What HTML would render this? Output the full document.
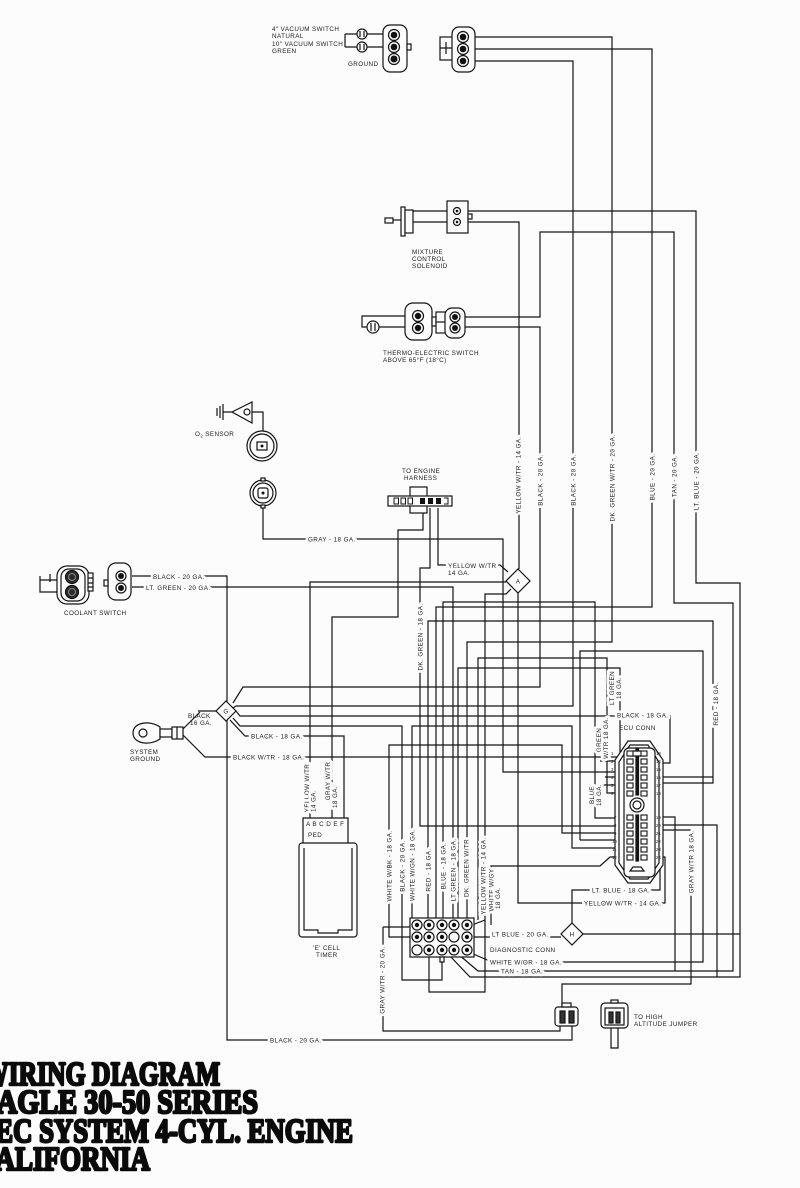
<!DOCTYPE html>
<html><head><meta charset="utf-8"><style>
html,body{margin:0;padding:0;background:#fcfcfc;}
svg{display:block;}
.t{font-family:"Liberation Sans",sans-serif;font-size:6.3px;letter-spacing:.4px;fill:#1c1c1c;stroke:#fcfcfc;stroke-width:5.5px;stroke-linejoin:round;paint-order:stroke;}
.n{font-family:"Liberation Sans",sans-serif;font-size:6.3px;letter-spacing:.4px;fill:#1c1c1c;}
.s{font-family:"Liberation Sans",sans-serif;font-size:4.3px;fill:#1c1c1c;}
.ti{font-family:"Liberation Serif",serif;font-weight:bold;font-size:34px;fill:#0a0a0a;stroke:#0a0a0a;stroke-width:2.6px;stroke-linejoin:round;}
</style></head><body>
<svg width="800" height="1188" viewBox="0 0 800 1188" xmlns="http://www.w3.org/2000/svg">
<rect width="800" height="1188" fill="#fcfcfc"/>

<!-- ================= WIRES ================= -->
<g fill="none" stroke="#141414" stroke-width="1.2">
<path d="M345,34 V47 M345,34 H357 M345,47 H357 M367,34 H388 M367,47 H388"/>
<path d="M470,37 H612 V642 H467 V920"/>
<path d="M470,49 H652 V607 H436 V920"/>
<path d="M470,61 H573 V706 H236"/>
<path d="M413,211 H696 V583 H740 V977 H470 L449,955"/>
<path d="M413,222 H519 V569"/>
<path d="M465,317 H540 V232 H674 V603 H733 V971 H478 L458,954"/>
<path d="M465,327 H540 V687 H243 L233,703"/>
<path d="M405,316 H362 V327 H367 M379,327 H405"/>
<path d="M223,412 H232 M248,412 H263 V431"/>
<path d="M263,506 V539 H503 V772 H627"/>
<path d="M423,508 V530 H398 V617 H332 V818"/>
<path d="M430,508 V568 H420 V826 H627"/>
<path d="M438,508 V565 H500 L508,572"/>
<path d="M506,582 H310 V818"/>
<path d="M511,589 L506,594 H485 V992 H429 V955"/>
<path d="M518,593 V903 H665 V857 H648"/>
<path d="M132,576 H227 V1040 H572 V1026"/>
<path d="M132,587 H453 V920"/>
<path d="M198,711 H216"/>
<path d="M183,729 L200,712"/>
<path d="M183,735 L205,757 H627"/>
<path d="M236,711 L240,716 H670 V763 H648"/>
<path d="M233,718 L240,726 H402 V980 H442 V957"/>
<path d="M230,720 L245,736 H344 V818"/>
<path d="M233,708 L236,706"/>
<path d="M417,937 H389 V745 H562 V833 H627"/>
<path d="M412,920 V726 H572 V848 H627"/>
<path d="M428,920 V621 H713 V783 H648"/>
<path d="M443,920 V602 H595 V818 H627"/>
<path d="M458,920 V668 H620 V752 H627"/>
<path d="M478,920 V658 H607 V793 H627"/>
<path d="M491,925 V866 H600 L610,857 H627"/>
<path d="M580,840 H627 M580,840 V651 H703 V962 H492 L471,953"/>
<path d="M648,830 H691 V984 H562 V1008"/>
<path d="M648,817 H675 V971"/>
<path d="M648,825 H717 V977"/>
<path d="M648,777 H713"/>
<path d="M648,850 H660 V890 H572 V923"/>
<path d="M648,761 H660"/>
<path d="M648,769 H655 M648,793 H655"/>
<path d="M627,761 H600 M627,777 H605 M627,785 H598"/>
<path d="M583,934 H740"/>
<path d="M472,937 H561"/>
<path d="M383,927 H412 M383,927 V1031 H560 V1026"/>
<path d="M412,920 L417,925 M420,918 L429,925 M436,918 L442,925 M453,918 V925 M467,918 V925 M485,920 L472,925"/>
<path d="M611,1022 V1048 H618 V1022"/>
</g>

<!-- ================= COMPONENTS ================= -->
<g stroke="#141414" stroke-width="1.2" fill="#fcfcfc">
<circle cx="362" cy="34" r="5"/><circle cx="362" cy="47" r="5"/>
<path d="M360,31 V37 M364,31 V37 M360,44 V50 M364,44 V50" fill="none"/>
<rect x="383" y="25" width="24" height="47" rx="7"/>
<rect x="407" y="44" width="4" height="6"/>
<circle cx="394" cy="35" r="5.5"/><circle cx="394" cy="47" r="5.5"/><circle cx="394" cy="59" r="5.5"/>
<rect x="440" y="37" width="13" height="23"/>
<path d="M440,48 H453 M446,42 V54" fill="none"/>
<rect x="452" y="27" width="23" height="45" rx="7"/>
<circle cx="463" cy="37" r="5.5"/><circle cx="463" cy="49" r="5.5"/><circle cx="463" cy="61" r="5.5"/>
<rect x="385" y="218" width="8" height="5"/>
<path d="M393,220 H402" fill="none"/>
<rect x="401" y="207" width="4" height="29"/>
<rect x="405" y="210" width="8" height="23"/>
<rect x="447" y="201" width="21" height="32"/>
<rect x="468" y="214" width="4" height="5"/>
<circle cx="457" cy="211" r="3.5"/><circle cx="457" cy="222" r="3.5"/>
<circle cx="373" cy="327" r="6"/>
<path d="M371,323 V331 M375,323 V331" fill="none"/>
<rect x="405" y="303" width="27" height="37" rx="8"/>
<rect x="432" y="317" width="4" height="9"/>
<circle cx="418" cy="316" r="5.5"/><circle cx="418" cy="328" r="5.5"/>
<rect x="436" y="312" width="10" height="21"/>
<path d="M436,322 H446" fill="none"/>
<rect x="445" y="308" width="20" height="30" rx="7"/>
<circle cx="455" cy="317" r="5"/><circle cx="455" cy="328" r="5"/>
<path d="M217,408 V416 M220,406 V418 M223,404 V420" fill="none"/>
<path d="M232,412 L252,402 V423 Z"/>
<circle cx="247" cy="412" r="3" fill="none"/>
<circle cx="262" cy="446" r="15"/><circle cx="262" cy="446" r="12"/>
<rect x="257" y="442" width="10" height="8"/>
<circle cx="263" cy="493" r="13"/><circle cx="263" cy="493" r="10"/>
<rect x="258" y="488" width="10" height="10" rx="2"/>
<rect x="261" y="478" width="4" height="3"/><rect x="261" y="505" width="4" height="3"/>
<rect x="410" y="487" width="17" height="10"/>
<rect x="410" y="504" width="17" height="9"/>
<rect x="388" y="496" width="64" height="10"/>
<!-- coolant switch -->
<path d="M40,576 V592 H57 M40,580 H57 M50,574 V582" fill="none"/>
<rect x="57" y="566" width="32" height="38" rx="10"/>
<rect x="61" y="569" width="24" height="32" rx="8"/>
<circle cx="72" cy="577" r="6.5" fill="#2a2a2a"/>
<circle cx="72" cy="592" r="6.5" fill="#2a2a2a"/>
<rect x="88" y="573" width="5" height="18"/>
<path d="M88,578 H93 M88,583 H93 M88,587 H93" fill="none"/>
<rect x="108" y="563" width="23" height="37" rx="8"/>
<rect x="104" y="580" width="4" height="6"/>
<circle cx="121" cy="576" r="5"/><circle cx="121" cy="588" r="5"/>
<path d="M160,727 C150,720 133,722 133,733 C133,744 150,746 160,739 Z"/>
<circle cx="143" cy="733" r="4"/>
<rect x="160" y="729" width="12" height="8"/>
<rect x="172" y="727" width="11" height="12"/>
<path d="M177,727 V739" fill="none"/>
<path d="M303,843 V818 H348 V843" fill="none"/>
<rect x="299" y="843" width="58" height="94" rx="3"/>
<path d="M304,848 V930 H318 V933 H338 V930 H352 V848" fill="none"/>
<path d="M628,741 H650 L663,760 V865 L650,883 H628 L615,865 V760 Z"/>
<path d="M630,745 H648 L659,762 V863 L648,879 H630 L619,863 V762 Z"/>
<rect x="624" y="748" width="31" height="129" rx="5"/>
<rect x="636" y="749" width="2.5" height="46" fill="#141414"/>
<rect x="636" y="815" width="2.5" height="46" fill="#141414"/>
<circle cx="637" cy="805" r="7"/><circle cx="637" cy="805" r="4"/>
<path d="M630,871 L633,867 H641 L644,871 Z"/>
<path d="M630,756 L633,751 H641 L644,756 Z"/>
</g>

<g fill="#fcfcfc" stroke="#141414" stroke-width="1.1">
<rect x="627" y="751" width="6" height="5"/><rect x="627" y="759" width="6" height="5"/><rect x="627" y="767" width="6" height="5"/><rect x="627" y="775" width="6" height="5"/><rect x="627" y="783" width="6" height="5"/><rect x="627" y="791" width="6" height="5"/>
<rect x="641" y="751" width="6" height="5"/><rect x="641" y="759" width="6" height="5"/><rect x="641" y="767" width="6" height="5"/><rect x="641" y="775" width="6" height="5"/><rect x="641" y="783" width="6" height="5"/><rect x="641" y="791" width="6" height="5"/>
<rect x="627" y="815" width="6" height="5"/><rect x="627" y="823" width="6" height="5"/><rect x="627" y="831" width="6" height="5"/><rect x="627" y="839" width="6" height="5"/><rect x="627" y="847" width="6" height="5"/><rect x="627" y="855" width="6" height="5"/>
<rect x="641" y="815" width="6" height="5"/><rect x="641" y="823" width="6" height="5"/><rect x="641" y="831" width="6" height="5"/><rect x="641" y="839" width="6" height="5"/><rect x="641" y="847" width="6" height="5"/><rect x="641" y="855" width="6" height="5"/>
</g>

<g fill="#111">
<circle cx="394" cy="35" r="3.3"/><circle cx="394" cy="47" r="3.3"/><circle cx="394" cy="59" r="3.5"/>
<circle cx="463" cy="37" r="3.3"/><circle cx="463" cy="49" r="3.3"/><circle cx="463" cy="61" r="3.3"/>
<circle cx="457" cy="211" r="1.3"/><circle cx="457" cy="222" r="1.3"/>
<circle cx="418" cy="316" r="3.2"/><circle cx="418" cy="328" r="3.2"/>
<circle cx="455" cy="317" r="3"/><circle cx="455" cy="328" r="3"/>
<circle cx="121" cy="576" r="3"/><circle cx="121" cy="588" r="3"/>
<circle cx="262" cy="446" r="1.5"/><circle cx="263" cy="493" r="1.5"/>
<rect x="420" y="498" width="5" height="6"/><rect x="428" y="498" width="5" height="6"/><rect x="436" y="498" width="5" height="6"/>
</g>
<g fill="none" stroke="#888" stroke-width="1">
<circle cx="72" cy="577" r="3.5"/><circle cx="72" cy="592" r="3.5"/>
</g>
<g fill="none" stroke="#141414" stroke-width="1">
<rect x="394" y="498" width="4.5" height="6"/><rect x="401" y="498" width="4.5" height="6"/><rect x="408" y="498" width="4.5" height="6"/>
<path d="M444,498 H448 V504 H444"/>
</g>

<g stroke="#141414" stroke-width="1.2" fill="#fcfcfc">
<rect x="410" y="918" width="64" height="39"/>
<rect x="440" y="957" width="4" height="5"/>
<circle cx="417" cy="925" r="5"/><circle cx="429" cy="925" r="5"/><circle cx="442" cy="925" r="5"/><circle cx="454" cy="925" r="5"/><circle cx="467" cy="925" r="5"/>
<circle cx="417" cy="937" r="5"/><circle cx="429" cy="937" r="5"/><circle cx="442" cy="937" r="5"/><circle cx="454" cy="937" r="5"/><circle cx="467" cy="937" r="5"/>
<circle cx="417" cy="950" r="5"/><circle cx="429" cy="950" r="5"/><circle cx="442" cy="950" r="5"/><circle cx="454" cy="950" r="5"/><circle cx="467" cy="950" r="5"/>
</g>
<g fill="#111">
<circle cx="417" cy="925" r="2.2"/><circle cx="429" cy="925" r="2.2"/><circle cx="442" cy="925" r="2.2"/><circle cx="454" cy="925" r="2.2"/><circle cx="467" cy="925" r="2.2"/>
<circle cx="417" cy="937" r="2.2"/><circle cx="429" cy="937" r="2.2"/><circle cx="442" cy="937" r="2.2"/><circle cx="467" cy="937" r="2.2"/>
<circle cx="429" cy="950" r="2.2"/><circle cx="442" cy="950" r="2.2"/><circle cx="454" cy="950" r="2.2"/><circle cx="467" cy="950" r="2.2"/>
</g>

<g stroke="#141414" stroke-width="1.2" fill="#fcfcfc">
<rect x="555" y="1007" width="23" height="19" rx="3"/>
<rect x="562" y="1003" width="9" height="4"/>
<rect x="560" y="1011" width="5" height="12" fill="#333"/><rect x="569" y="1011" width="5" height="12" fill="#333"/>
<rect x="601" y="1003" width="27" height="25" rx="4"/>
<rect x="605" y="1008" width="19" height="17"/>
<rect x="611" y="1000" width="7" height="3"/>
<rect x="609" y="1012" width="4" height="11" fill="#333"/><rect x="616" y="1012" width="4" height="11" fill="#333"/>
</g>

<g stroke="#141414" stroke-width="1.2" fill="#fcfcfc">
<path d="M518,569 L530,581 L518,593 L506,581 Z"/>
<path d="M572,923 L583,934 L572,945 L561,934 Z"/>
<path d="M226,701 L236,711 L226,721 L216,711 Z"/>
</g>
<g class="n" text-anchor="middle" font-size="6">
<text x="518" y="583.5">A</text>
<text x="572" y="936.5">H</text>
<text x="226" y="713.5">G</text>
</g>

<!-- ================= LABELS ================= -->
<g class="n">
<text x="272" y="31">4" VACUUM SWITCH</text>
<text x="272" y="38">NATURAL</text>
<text x="272" y="46">10" VACUUM SWITCH</text>
<text x="272" y="53">GREEN</text>
<text x="348" y="66">GROUND</text>
<text x="412" y="254">MIXTURE</text>
<text x="412" y="261">CONTROL</text>
<text x="412" y="268">SOLENOID</text>
<text x="383" y="355">THERMO-ELECTRIC SWITCH</text>
<text x="383" y="362">ABOVE 65°F (18°C)</text>
<text x="195" y="436">O<tspan font-size="4.3" dy="1.5">2</tspan><tspan dy="-1.5"> SENSOR</tspan></text>
<text x="402" y="473">TO ENGINE</text>
<text x="404" y="480">HARNESS</text>
<text x="64" y="615">COOLANT SWITCH</text>
<text x="188" y="718">BLACK</text>
<text x="190" y="725">16 GA.</text>
<text x="130" y="754">SYSTEM</text>
<text x="130" y="761">GROUND</text>
<text x="619" y="730">ECU CONN</text>
<text x="306" y="826">A B C D E F</text>
<text x="308" y="837">PED</text>
<text x="313" y="950">'E' CELL</text>
<text x="316" y="957">TIMER</text>
<text x="490" y="952">DIAGNOSTIC CONN</text>
<text x="634" y="1019">TO HIGH</text>
<text x="634" y="1026">ALTITUDE JUMPER</text>
</g>

<g class="t">
<text x="308" y="541.5">GRAY - 18 GA.</text>
<text x="448" y="568">YELLOW W/TR</text>
<text x="448" y="575">14 GA.</text>
<text x="153" y="579">BLACK - 20 GA.</text>
<text x="146" y="590">LT. GREEN - 20 GA.</text>
<text x="251" y="738.5">BLACK - 18 GA.</text>
<text x="233" y="759.5">BLACK W/TR - 18 GA.</text>
<text x="617" y="717.5">BLACK - 18 GA.</text>
<text x="592" y="892.5">LT. BLUE - 18 GA.</text>
<text x="584" y="905.5">YELLOW W/TR - 14 GA.</text>
<text x="492" y="936.5">LT BLUE - 20 GA.</text>
<text x="490" y="964.5">WHITE W/OR - 18 GA.</text>
<text x="501" y="973.5">TAN - 18 GA.</text>
<text x="270" y="1042.5">BLACK - 20 GA.</text>
</g>

<g class="t" text-anchor="middle">
<text transform="translate(520.5,475) rotate(-90)">YELLOW W/TR - 14 GA.</text>
<text transform="translate(542.5,480) rotate(-90)">BLACK - 20 GA.</text>
<text transform="translate(575.5,480) rotate(-90)">BLACK - 20 GA.</text>
<text transform="translate(614.5,478) rotate(-90)">DK. GREEN W/TR - 20 GA.</text>
<text transform="translate(654.5,477) rotate(-90)">BLUE - 20 GA.</text>
<text transform="translate(676.5,476) rotate(-90)">TAN - 20 GA.</text>
<text transform="translate(698.5,481) rotate(-90)">LT. BLUE - 20 GA.</text>
<text transform="translate(422.5,637) rotate(-90)">DK. GREEN - 18 GA.</text>
<text transform="translate(718,704) rotate(-90)">RED - 18 GA.</text>
<text transform="translate(614,688) rotate(-90)">LT GREEN</text>
<text transform="translate(621,688) rotate(-90)">18 GA.</text>
<text transform="translate(601,740) rotate(-90)">GREEN</text>
<text transform="translate(608,738) rotate(-90)">W/TR 18 GA.</text>
<text transform="translate(594,795) rotate(-90)">BLUE</text>
<text transform="translate(601,795) rotate(-90)">18 GA.</text>
<text transform="translate(693.5,862) rotate(-90)">GRAY W/TR 18 GA.</text>
<text transform="translate(309,788) rotate(-90)">YELLOW W/TR</text>
<text transform="translate(315.5,801) rotate(-90)">14 GA.</text>
<text transform="translate(330,781) rotate(-90)">GRAY W/TR</text>
<text transform="translate(337,797) rotate(-90)">18 GA.</text>
<text transform="translate(391.5,866) rotate(-90)">WHITE W/BK - 18 GA.</text>
<text transform="translate(404.5,866) rotate(-90)">BLACK - 20 GA.</text>
<text transform="translate(414.5,865) rotate(-90)">WHITE W/GN - 18 GA.</text>
<text transform="translate(430.5,870) rotate(-90)">RED - 18 GA.</text>
<text transform="translate(445.5,866) rotate(-90)">BLUE - 18 GA.</text>
<text transform="translate(455.5,870) rotate(-90)">LT GREEN - 18 GA.</text>
<text transform="translate(468.5,868) rotate(-90)">DK. GREEN W/TR</text>
<text transform="translate(485.5,876) rotate(-90)">YELLOW W/TR - 14 GA.</text>
<text transform="translate(493.5,890) rotate(-90)">WHITE W/GY</text>
<text transform="translate(500,898) rotate(-90)">18 GA.</text>
<text transform="translate(384.5,980) rotate(-90)">GRAY W/TR - 20 GA.</text>
</g>

<g class="s">
<text x="611" y="755">1</text><text x="611" y="763">2</text><text x="611" y="771">3</text><text x="611" y="779">4</text><text x="611" y="787">5</text><text x="611" y="795">6</text>
<text x="614" y="819">7</text><text x="614" y="827">8</text><text x="614" y="835">9</text><text x="612" y="843">10</text><text x="612" y="851">11</text><text x="612" y="859">12</text>
<text x="656" y="755">13</text><text x="656" y="763">14</text><text x="656" y="771">15</text><text x="656" y="779">16</text><text x="656" y="787">17</text><text x="656" y="795">18</text>
<text x="656" y="819">19</text><text x="656" y="827">20</text><text x="656" y="835">21</text><text x="656" y="843">22</text><text x="656" y="851">23</text><text x="656" y="859">24</text>
</g>

<!-- ================= TITLE ================= -->
<g class="ti">
<text x="-17" y="1085" textLength="237" lengthAdjust="spacingAndGlyphs">WIRING DIAGRAM</text>
<text x="-22" y="1113" textLength="280" lengthAdjust="spacingAndGlyphs">EAGLE 30-50 SERIES</text>
<text x="-24" y="1142" textLength="377" lengthAdjust="spacingAndGlyphs">CEC SYSTEM 4-CYL. ENGINE</text>
<text x="-24" y="1170" textLength="174" lengthAdjust="spacingAndGlyphs">CALIFORNIA</text>
</g>
</svg>
</body></html>
